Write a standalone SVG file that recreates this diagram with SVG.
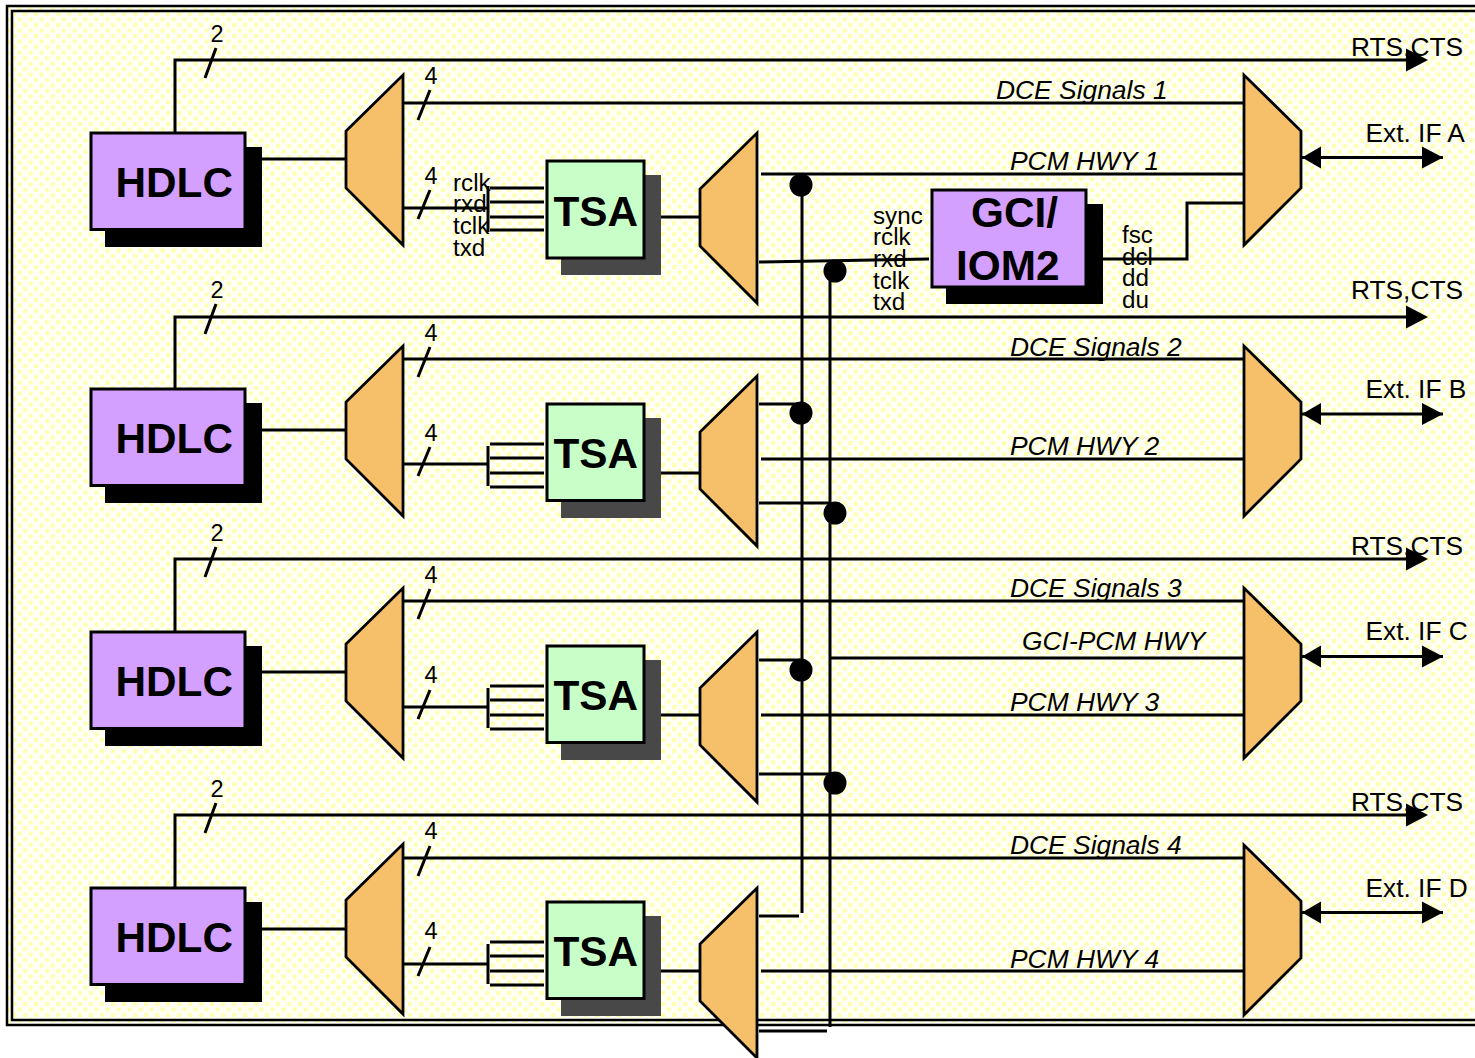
<svg xmlns="http://www.w3.org/2000/svg" width="1475" height="1058" viewBox="0 0 1475 1058">
<style>
text{font-family:"Liberation Sans",Arial,sans-serif;fill:#000}
.b{font-weight:bold;font-size:42.3px}
.s{font-size:24.2px}
.n{font-size:23.5px;text-anchor:middle}
.l{font-size:26.3px}
.i{font-size:26.4px;font-style:italic}
.w{fill:none;stroke:#000;stroke-width:3}
.mux{fill:#f5c069;stroke:#000;stroke-width:2.8;stroke-linejoin:miter;stroke-miterlimit:3}
.hb{fill:#d4a0ff;stroke:#000;stroke-width:3}
.tb{fill:#c8ffc8;stroke:#000;stroke-width:3}
.hs{fill:#000}
.ts{fill:#484848}
</style>
<defs>
<pattern id="dots" width="11" height="11" patternUnits="userSpaceOnUse">
<rect width="11" height="11" fill="#fffff8"/>
<rect x="1" y="1" width="4.2" height="4.2" fill="#ffffb4"/>
<rect x="6.5" y="6.5" width="4.2" height="4.2" fill="#ffffb4"/>
</pattern>
<path id="lm" d="M403 1V171L346 114V57Z" class="mux"/>
<path id="mm" d="M757 1V171L700 114V57Z" class="mux"/>
<path id="rm" d="M1244 1V171L1301 114V57Z" class="mux"/>
<path id="ah" d="M-21 -11.5L1 0L-21 11.5Z"/>
<path id="bh" d="M0 0L19 -11V11Z M141 0L120 -11V11Z"/>
</defs>

<rect x="0" y="0" width="1475" height="1058" fill="#fff"/>
<g id="frame">
<rect x="7" y="6" width="1480" height="1019" fill="url(#dots)" stroke="#000" stroke-width="2.5"/>
<rect x="12" y="11" width="1480" height="1009" fill="url(#dots)" stroke="#000" stroke-width="2.5"/>
</g>

<g id="connectors">
<path class="w" d="M175 132V60H1410M175 388V317H1410M175 631V559H1410M175 887V815H1410"/>
<path class="w" d="M205 78L216 48M205 334L216 304M205 577L216 547M205 833L216 803"/>
<path class="w" d="M262 159H346M262 430H346M262 672H346M262 929H346"/>
<path class="w" d="M404 103H1244M404 359H1244M404 601H1244M404 858H1244"/>
<path class="w" d="M418 120L430 90M418 377L430 347M418 619L430 589M418 876L430 846"/>
<path class="w" d="M404 208H488M404 464H488M404 707H488M404 964H488"/>
<path class="w" d="M418 219L430 190M418 476L430 447M418 719L430 690M418 976L430 947"/>
<path class="w" d="M488 186V232M490 188H544M490 202H544M490 217H544M490 230H544"/>
<path class="w" d="M488 446V486M490 444H544M490 458H544M490 473H544M490 487H544"/>
<path class="w" d="M488 688V728M490 686H544M490 700H544M490 715H544M490 729H544"/>
<path class="w" d="M488 944V984M490 942H544M490 956H544M490 971H544M490 985H544"/>
<path class="w" d="M646 217H700M646 473H700M646 715H700M646 971H700"/>
<path class="w" d="M761 174H1244M761 459H1244M761 715H1244M761 971H1244M831 658H1244"/>
<path class="w" d="M802 185V913M830 271V1027"/>
<path class="w" d="M759 262L929 259M759 404H800M759 503H830M759 660H800M759 774H830M759 916H799M759 1031H827"/>
<path class="w" d="M1088 259H1187V203H1244"/>
<path class="w" d="M1302 157.500H1443M1302 414H1443M1302 656.500H1443M1302 912.500H1443"/>
<use href="#ah" x="1427" y="60"/><use href="#ah" x="1427" y="317"/><use href="#ah" x="1427" y="559"/><use href="#ah" x="1427" y="815"/>
<use href="#bh" x="1302" y="157.500"/><use href="#bh" x="1302" y="414"/><use href="#bh" x="1302" y="656.500"/><use href="#bh" x="1302" y="912.500"/>
<circle cx="801" cy="185" r="11.500"/><circle cx="835" cy="271" r="11.500"/><circle cx="801" cy="413" r="11.500"/><circle cx="835" cy="513" r="11.500"/><circle cx="801" cy="670" r="11.500"/><circle cx="835" cy="783" r="11.500"/>
</g>

<g id="hdlc1"><rect class="hs" x="105" y="147" width="157" height="100"/><rect class="hb" x="91" y="133" width="154" height="96.500"/><text class="b" x="115.500" y="196.500">HDLC</text></g>
<g id="hdlc2"><rect class="hs" x="105" y="403" width="157" height="100"/><rect class="hb" x="91" y="389" width="154" height="96.500"/><text class="b" x="115.500" y="452.500">HDLC</text></g>
<g id="hdlc3"><rect class="hs" x="105" y="646" width="157" height="100"/><rect class="hb" x="91" y="632" width="154" height="96.500"/><text class="b" x="115.500" y="695.500">HDLC</text></g>
<g id="hdlc4"><rect class="hs" x="105" y="902" width="157" height="100"/><rect class="hb" x="91" y="888" width="154" height="96.500"/><text class="b" x="115.500" y="951.500">HDLC</text></g>

<g id="lmux1"><use href="#lm" y="74"/></g>
<g id="lmux2"><use href="#lm" y="345"/></g>
<g id="lmux3"><use href="#lm" y="587"/></g>
<g id="lmux4"><use href="#lm" y="843"/></g>

<g id="tsa1"><rect class="ts" x="561" y="175" width="100" height="100"/><rect class="tb" x="547" y="161" width="97" height="97"/><text class="b" x="553.500" y="225.500">TSA</text></g>
<g id="tsa2"><rect class="ts" x="561" y="418" width="100" height="100"/><rect class="tb" x="547" y="404" width="97" height="96.500"/><text class="b" x="553.500" y="467.500">TSA</text></g>
<g id="tsa3"><rect class="ts" x="561" y="660" width="100" height="100"/><rect class="tb" x="547" y="646" width="97" height="96.500"/><text class="b" x="553.500" y="709.500">TSA</text></g>
<g id="tsa4"><rect class="ts" x="561" y="916" width="100" height="100"/><rect class="tb" x="547" y="902" width="97" height="96.500"/><text class="b" x="553.500" y="965.500">TSA</text></g>

<g id="mmux1"><use href="#mm" y="132"/></g>
<g id="mmux2"><use href="#mm" y="375"/></g>
<g id="mmux3"><use href="#mm" y="631"/></g>
<g id="mmux4"><use href="#mm" y="887"/></g>

<g id="gci"><rect class="hs" x="946" y="204" width="157" height="100"/><rect class="hb" x="932" y="190" width="154" height="97"/><text class="b" x="971" y="226.500">GCI/</text><text class="b" x="956" y="279.500">IOM2</text></g>

<g id="rmux1"><use href="#rm" y="74"/></g>
<g id="rmux2"><use href="#rm" y="345"/></g>
<g id="rmux3"><use href="#rm" y="587"/></g>
<g id="rmux4"><use href="#rm" y="844"/></g>

<g id="labels">
<text class="n" x="217" y="42">2</text><text class="n" x="217" y="298">2</text><text class="n" x="217" y="541">2</text><text class="n" x="217" y="797">2</text>
<text class="n" x="431" y="84">4</text><text class="n" x="431" y="184">4</text><text class="n" x="431" y="341">4</text><text class="n" x="431" y="441">4</text><text class="n" x="431" y="583">4</text><text class="n" x="431" y="683">4</text><text class="n" x="431" y="839">4</text><text class="n" x="431" y="939">4</text>
<text class="s" x="453" y="191">rclk</text><text class="s" x="453" y="212">rxd</text><text class="s" x="453" y="233.500">tclk</text><text class="s" x="453" y="255.500">txd</text>
<text class="s" x="873" y="224">sync</text><text class="s" x="873" y="245">rclk</text><text class="s" x="873" y="267">rxd</text><text class="s" x="873" y="289">tclk</text><text class="s" x="873" y="310">txd</text>
<text class="s" x="1122" y="243">fsc</text><text class="s" x="1122" y="265">dcl</text><text class="s" x="1122" y="286">dd</text><text class="s" x="1122" y="308">du</text>
<text class="l" x="1351" y="56">RTS,CTS</text><text class="l" x="1351" y="299">RTS,CTS</text><text class="l" x="1351" y="555">RTS,CTS</text><text class="l" x="1351" y="811">RTS,CTS</text>
<text class="l" x="1365.500" y="142">Ext. IF A</text><text class="l" x="1365.500" y="398">Ext. IF B</text><text class="l" x="1365.500" y="640">Ext. IF C</text><text class="l" x="1365.500" y="897">Ext. IF D</text>
<text class="i" x="996" y="99">DCE Signals 1</text><text class="i" x="1010" y="356">DCE Signals 2</text><text class="i" x="1010" y="597">DCE Signals 3</text><text class="i" x="1010" y="854">DCE Signals 4</text>
<text class="i" x="1010" y="170">PCM HWY 1</text><text class="i" x="1010" y="455">PCM HWY 2</text><text class="i" x="1010" y="711">PCM HWY 3</text><text class="i" x="1010" y="968">PCM HWY 4</text>
<text class="i" x="1022" y="650">GCI-PCM HWY</text>
</g>
</svg>
